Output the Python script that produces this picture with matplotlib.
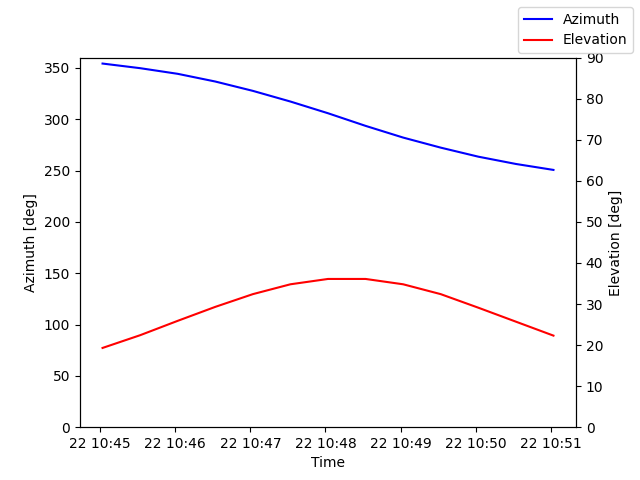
import datetime as dt
import matplotlib
matplotlib.use("Agg")
import matplotlib.pyplot as plt

# pass samples, every 30 s
t0 = dt.datetime(2024, 3, 22, 10, 45, 2)
times = [t0 + dt.timedelta(seconds=30 * k) for k in range(13)]
azimuth = [354.2, 349.7, 344.2, 336.7, 327.6, 317.2, 305.8, 293.5, 282.1, 272.3, 263.5, 256.4, 250.6]
elevation = [19.3, 22.4, 25.9, 29.3, 32.4, 34.8, 36.1, 36.1, 34.8, 32.4, 29.1, 25.7, 22.3]

fig, ax1 = plt.subplots(figsize=(6.4, 4.8), dpi=100)
ax1.plot(times, azimuth, color="blue", label="Azimuth")
ax1.set_ylim(0, 360)
ax1.set_xlabel("Time")
ax1.set_ylabel("Azimuth [deg]")

ax2 = ax1.twinx()
ax2.plot(times, elevation, color="red", label="Elevation")
ax2.set_ylim(0, 90)
ax2.set_ylabel("Elevation [deg]")

fig.legend()
fig.savefig("out.png")
